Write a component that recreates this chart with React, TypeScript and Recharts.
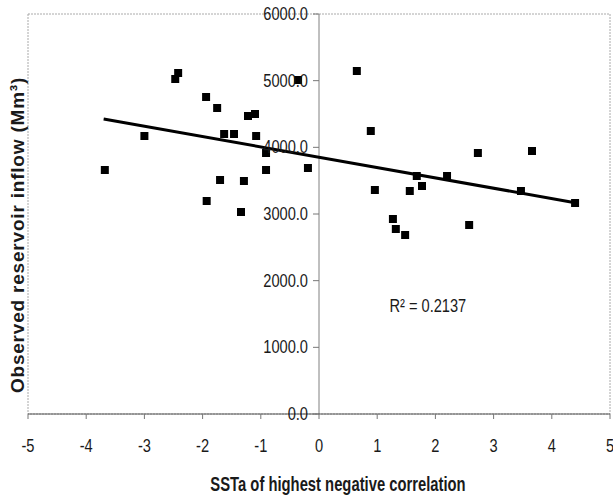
import React from 'react'
import {
  ScatterChart,
  Scatter,
  XAxis,
  YAxis,
  ZAxis,
  ReferenceLine,
  ReferenceArea,
  ReferenceDot,
  Label,
} from 'recharts'

// SST anomaly vs observed inflow, one pair per year
const sstAnomaly = [
  -3.68, -3.0, -2.47, -2.42, -1.94, -1.75, -1.93, -1.7, -1.63, -1.46, -1.34, -1.29,
  -1.22, -1.1, -1.08, -0.91, -0.91, -0.36, -0.19, 0.65, 0.89, 0.96, 1.27, 1.32,
  1.48, 1.56, 1.68, 1.77, 2.2, 2.58, 2.73, 3.47, 3.66, 4.4,
]
const inflow = [
  3660, 4170, 5025, 5115, 4755, 4590, 3195, 3510, 4200, 4200, 3030, 3495,
  4470, 4500, 4170, 3915, 3660, 5010, 3690, 5145, 4245, 3360, 2925, 2775,
  2685, 3345, 3570, 3420, 3570, 2835, 3915, 3345, 3945, 3165,
]

// linear trend, end points
const trendX = [-3.7, 4.4]
const trendY = [4425, 3170]
const rSquared = 0.2137

const xTicks = [-5, -4, -3, -2, -1, 0, 1, 2, 3, 4, 5]
const yTicks = [0, 1000, 2000, 3000, 4000, 5000, 6000]

const points = sstAnomaly.map((x, i) => ({ x, y: inflow[i] }))
const trend = trendX.map((x, i) => ({ x, y: trendY[i] }))

const W = 613
const H = 498
const PLOT_LEFT = 28
const PLOT_RIGHT = 3
const PLOT_TOP = 14
const X_AXIS_H = 84
// y axis crosses at x = 0, the middle of a symmetric domain
const CROSS_X = PLOT_LEFT + (W - PLOT_LEFT - PLOT_RIGHT) / 2

const SANS = '"Liberation Sans", Arial, sans-serif'
// the figure's text is horizontally squeezed
const SQUEEZE = 0.77

const Narrow = ({ x, y, anchor = 'middle', size = 19, bold = false, sx = SQUEEZE, children }: any) => (
  <text
    transform={`translate(${x},${y}) scale(${sx},1)`}
    textAnchor={anchor}
    dominantBaseline="central"
    fontFamily={SANS}
    fontSize={size}
    fontWeight={bold ? 'bold' : 'normal'}
    fill="#1a1a1a"
  >
    {children}
  </text>
)

const YTick = (props: any) => {
  const { y, payload } = props
  return (
    <g>
      <line x1={CROSS_X - 6} x2={CROSS_X} y1={y} y2={y} stroke="#777" />
      <Narrow x={CROSS_X - 11} y={y} anchor="end">
        {payload.value.toFixed(1)}
      </Narrow>
    </g>
  )
}

const XTick = (props: any) => {
  const { x, y, payload } = props
  return <Narrow x={x} y={y + 27}>{payload.value}</Narrow>
}

const XTitle = (props: any) => {
  const vb = props.viewBox
  return (
    <Narrow x={vb.x + vb.width / 2 + 19} y={vb.y + 70} size={20} bold sx={0.74}>
      SSTa of highest negative correlation
    </Narrow>
  )
}

const YTitle = (props: any) => {
  const vb = props.viewBox
  const cx = 17
  const cy = vb.y + vb.height / 2 + 21
  return (
    <text
      transform={`translate(${cx},${cy}) rotate(-90)`}
      textAnchor="middle"
      dominantBaseline="central"
      fontFamily={SANS}
      fontSize={19}
      fontWeight="bold"
      letterSpacing={0.8}
      fill="#1a1a1a"
    >
      Observed reservoir inflow (Mm³)
    </text>
  )
}

const RLabel = (props: any) => {
  const vb = props.viewBox
  return (
    <Narrow x={vb.x + vb.width / 2} y={vb.y + vb.height / 2} size={19}>
      R² = {rSquared.toFixed(4)}
    </Narrow>
  )
}

export default function App() {
  return (
    <div style={{ position: 'absolute', left: 0, top: 0, width: W, height: H, background: '#fff' }}>
      <ScatterChart
        width={W}
        height={H}
        margin={{ top: PLOT_TOP, right: PLOT_RIGHT, left: 0, bottom: 0 }}
      >
        <XAxis
          type="number"
          dataKey="x"
          domain={[-5, 5]}
          ticks={xTicks}
          height={X_AXIS_H}
          axisLine={{ stroke: '#555' }}
          tickLine={{ stroke: '#777' }}
          tickSize={5}
          tickMargin={0}
          tick={<XTick />}
          interval={0}
        >
          <Label content={<XTitle />} />
        </XAxis>
        <YAxis
          type="number"
          dataKey="y"
          domain={[0, 6000]}
          ticks={yTicks}
          width={PLOT_LEFT}
          axisLine={false}
          tickLine={false}
          tick={<YTick />}
          interval={0}
        >
          <Label content={<YTitle />} />
        </YAxis>
        <ZAxis range={[70, 70]} />
        <ReferenceArea x1={-5} x2={5} y1={0} y2={6000} fill="none" stroke="#aaa" strokeDasharray="2 1" />
        <ReferenceLine x={0} stroke="#808080" />
        <ReferenceLine segment={trend} stroke="#000" strokeWidth={3} />
        <Scatter data={points} fill="#000" shape="square" isAnimationActive={false} />
        <ReferenceDot x={1.87} y={1620} r={0} fill="none" stroke="none">
          <Label content={<RLabel />} />
        </ReferenceDot>
      </ScatterChart>
    </div>
  )
}
